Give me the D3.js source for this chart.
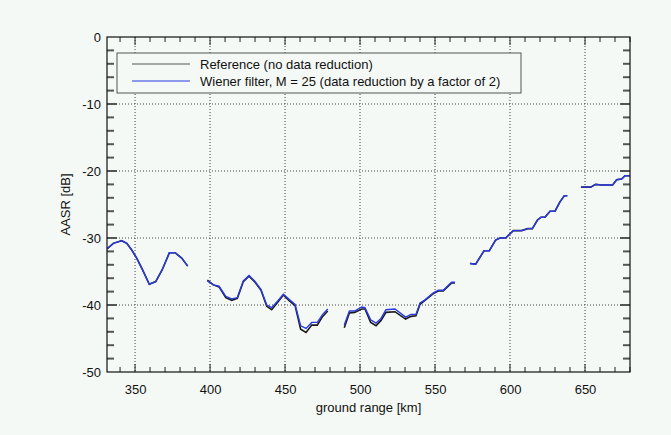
<!DOCTYPE html>
<html><head><meta charset="utf-8">
<script src="https://cdn.jsdelivr.net/npm/d3@7"></script>
<style>body{margin:0;background:#f5f9f6;} svg{display:block;font-family:"Liberation Sans",Arial,sans-serif;}</style>
</head><body>
<script>
// ---- data ----
const xTicks = [350, 400, 450, 500, 550, 600, 650];
const yTicks = [0, -10, -20, -30, -40, -50];
const seriesNames = ["Reference (no data reduction)", "Wiener filter, M = 25 (data reduction by a factor of 2)"];

// segments of the Wiener-filtered curve: [km, dB]
const wienerSeg1 = [[331.5,-31.6],[335.5,-30.8],[341.1,-30.4],[344.5,-30.8],[347.8,-31.8],[351.1,-33.0],[355.1,-34.8],[359.5,-36.9],[363.8,-36.5],[368.2,-34.7],[372.9,-32.2],[376.7,-32.2],[381.1,-33.0],[385.1,-34.2]];
const wienerSeg2 = [[398.2,-36.4],[402.2,-37.0],[406.0,-37.2],[410.5,-38.7],[414.5,-39.1],[418.2,-38.9],[422.2,-36.4],[426.0,-35.6],[430.0,-36.5],[434.0,-37.7],[437.8,-40.0],[441.1,-40.4],[445.1,-39.4],[448.9,-38.4],[452.9,-39.2],[456.7,-39.9],[460.4,-43.1],[464.0,-43.5],[467.8,-42.6],[471.5,-42.6],[475.1,-41.4],[478.5,-40.6]];
const wienerSeg3 = [[489.5,-43.0],[492.9,-40.9],[496.4,-40.9],[501.1,-40.3],[503.3,-40.4],[507.1,-42.2],[510.7,-42.7],[514.0,-42.0],[517.3,-40.7],[523.3,-40.6],[530.4,-41.8],[534.0,-41.4],[537.3,-41.4],[540.0,-39.7],[542.9,-39.3],[548.9,-38.2],[552.2,-37.8],[555.5,-37.8],[561.1,-36.6],[563.3,-36.6]];
const wienerSeg4 = [[573.3,-33.8],[577.1,-33.9],[582.7,-31.9],[586.2,-31.9],[590.4,-30.3],[593.3,-30.0],[597.1,-30.0],[602.2,-28.9],[607.8,-28.9],[611.8,-28.6],[614.9,-28.6],[618.4,-27.3],[620.7,-26.9],[623.3,-26.9],[626.7,-26.0],[630.0,-26.0],[633.3,-24.6],[636.2,-23.7],[638.2,-23.7]];
const wienerSeg5 = [[647.3,-22.4],[653.8,-22.4],[657.1,-22.0],[661.1,-22.1],[668.4,-22.1],[671.1,-21.3],[674.4,-21.2],[676.7,-20.7],[680.0,-20.7]];

// reference curve segments (slightly lower in places)
const refSeg1 = wienerSeg1;
const refSeg2 = [[398.2,-36.3],[402.2,-37.0],[406.0,-37.3],[410.5,-38.9],[414.5,-39.3],[418.2,-39.0],[422.2,-36.5],[426.0,-35.7],[430.0,-36.6],[434.0,-37.8],[437.8,-40.2],[441.1,-40.7],[445.1,-39.6],[448.9,-38.5],[452.9,-39.4],[456.7,-40.1],[460.4,-43.6],[464.0,-44.1],[467.8,-43.0],[471.5,-43.0],[475.1,-41.7],[478.5,-40.9]];
const refSeg3 = [[489.5,-43.4],[492.9,-41.2],[496.4,-41.1],[501.1,-40.6],[503.3,-40.6],[507.1,-42.6],[510.7,-43.1],[514.0,-42.3],[517.3,-41.1],[523.3,-41.0],[530.4,-42.1],[534.0,-41.7],[537.3,-41.6],[540.0,-39.9],[542.9,-39.4],[548.9,-38.3],[552.2,-37.9],[555.5,-37.9],[561.1,-36.7],[563.3,-36.7]];
const refSeg4 = wienerSeg4;
const refSeg5 = wienerSeg5;

const refSegments = [refSeg1, refSeg2, refSeg3, refSeg4, refSeg5];
const wienerSegments = [wienerSeg1, wienerSeg2, wienerSeg3, wienerSeg4, wienerSeg5];

// ---- chart ----
const W = 671, H = 435;
const m = {left: 107, right: 41, top: 37, bottom: 63};
const pw = W - m.left - m.right, ph = H - m.top - m.bottom;
const FS = 13;
const svg = d3.select("body").append("svg").attr("width", W).attr("height", H);
svg.append("rect").attr("width", W).attr("height", H).attr("fill", "#f5f9f6");

const x = d3.scaleLinear().domain([331.3, 680]).range([m.left, m.left + pw]);
const y = d3.scaleLinear().domain([-50, 0]).range([m.top + ph, m.top]);

const g = svg.append("g");
// grid
g.selectAll(".gx").data(xTicks).join("line")
  .attr("x1", d => x(d)).attr("x2", d => x(d)).attr("y1", m.top).attr("y2", m.top + ph)
  .attr("stroke", "#444").attr("stroke-width", 1).attr("stroke-dasharray", "1,2");
g.selectAll(".gy").data(yTicks.filter(d => d > -50 && d < 0)).join("line")
  .attr("x1", m.left).attr("x2", m.left + pw).attr("y1", d => y(d)).attr("y2", d => y(d))
  .attr("stroke", "#444").attr("stroke-width", 1).attr("stroke-dasharray", "1,2");

// minor ticks
const xMinor = d3.range(340, 681, 10);
const yMinor = d3.range(-48, 0, 2);
g.selectAll(".mxb").data(xMinor).join("line")
  .attr("x1", d => x(d)).attr("x2", d => x(d)).attr("y1", m.top + ph).attr("y2", d => m.top + ph - (d % 50 === 0 ? 8 : 5))
  .attr("stroke", "#222");
g.selectAll(".mxt").data(xMinor).join("line")
  .attr("x1", d => x(d)).attr("x2", d => x(d)).attr("y1", m.top).attr("y2", d => m.top + (d % 50 === 0 ? 8 : 5))
  .attr("stroke", "#222");
g.selectAll(".myl").data(yMinor).join("line")
  .attr("x1", m.left).attr("x2", d => m.left + (d % 10 === 0 ? 10 : 7)).attr("y1", d => y(d)).attr("y2", d => y(d))
  .attr("stroke", "#555").attr("stroke-width", 2);
g.selectAll(".myr").data(yMinor).join("line")
  .attr("x1", m.left + pw).attr("x2", d => m.left + pw - (d % 10 === 0 ? 10 : 7)).attr("y1", d => y(d)).attr("y2", d => y(d))
  .attr("stroke", "#555").attr("stroke-width", 2);

// axes labels via d3 axes (no lines)
const xa = svg.append("g").attr("transform", `translate(0,${m.top + ph})`)
  .call(d3.axisBottom(x).tickValues(xTicks).tickFormat(d => String(d)).tickSize(0).tickPadding(13));
xa.select(".domain").remove();
xa.selectAll("text").attr("font-size", FS).attr("fill", "#111").attr("font-family", "Liberation Sans, Arial, sans-serif");
const ya = svg.append("g").attr("transform", `translate(${m.left},0)`)
  .call(d3.axisLeft(y).tickValues(yTicks).tickFormat(d => String(d)).tickSize(0).tickPadding(6));
ya.select(".domain").remove();
ya.selectAll("text").attr("font-size", FS).attr("fill", "#111").attr("font-family", "Liberation Sans, Arial, sans-serif");

// series
const line = d3.line().x(d => x(d[0])).y(d => y(d[1]));
svg.append("g").selectAll("path").data(refSegments).join("path")
  .attr("d", line).attr("fill", "none").attr("stroke", "#1a1a1a").attr("stroke-width", 1.6);
svg.append("g").selectAll("path").data(wienerSegments).join("path")
  .attr("d", line).attr("fill", "none").attr("stroke", "#2b3be0").attr("stroke-width", 1.4);

// frame
svg.append("rect").attr("x", m.left).attr("y", m.top).attr("width", pw).attr("height", ph)
  .attr("fill", "none").attr("stroke", "#111").attr("stroke-width", 1.2);

// legend
const lg = svg.append("g");
lg.append("rect").attr("x", 117).attr("y", 53).attr("width", 404).attr("height", 40)
  .attr("fill", "#f5f9f6").attr("stroke", "#555").attr("stroke-width", 1);
const lcolors = ["#555", "#2b3be0"];
seriesNames.forEach((name, i) => {
  const yy = 64 + i * 17;
  lg.append("line").attr("x1", 132).attr("x2", 190).attr("y1", yy).attr("y2", yy)
    .attr("stroke", lcolors[i]).attr("stroke-width", 1.2);
  lg.append("text").attr("x", 200).attr("y", yy + 4.5).attr("font-size", FS).attr("fill", "#111").text(name);
});

// axis titles
svg.append("text").attr("x", m.left + pw / 2).attr("y", 412).attr("text-anchor", "middle")
  .attr("font-size", FS).attr("fill", "#111").text("ground range [km]");
svg.append("text").attr("transform", `translate(70,${m.top + ph / 2}) rotate(-90)`).attr("text-anchor", "middle")
  .attr("font-size", FS).attr("fill", "#111").text("AASR [dB]");
</script>
</body></html>
